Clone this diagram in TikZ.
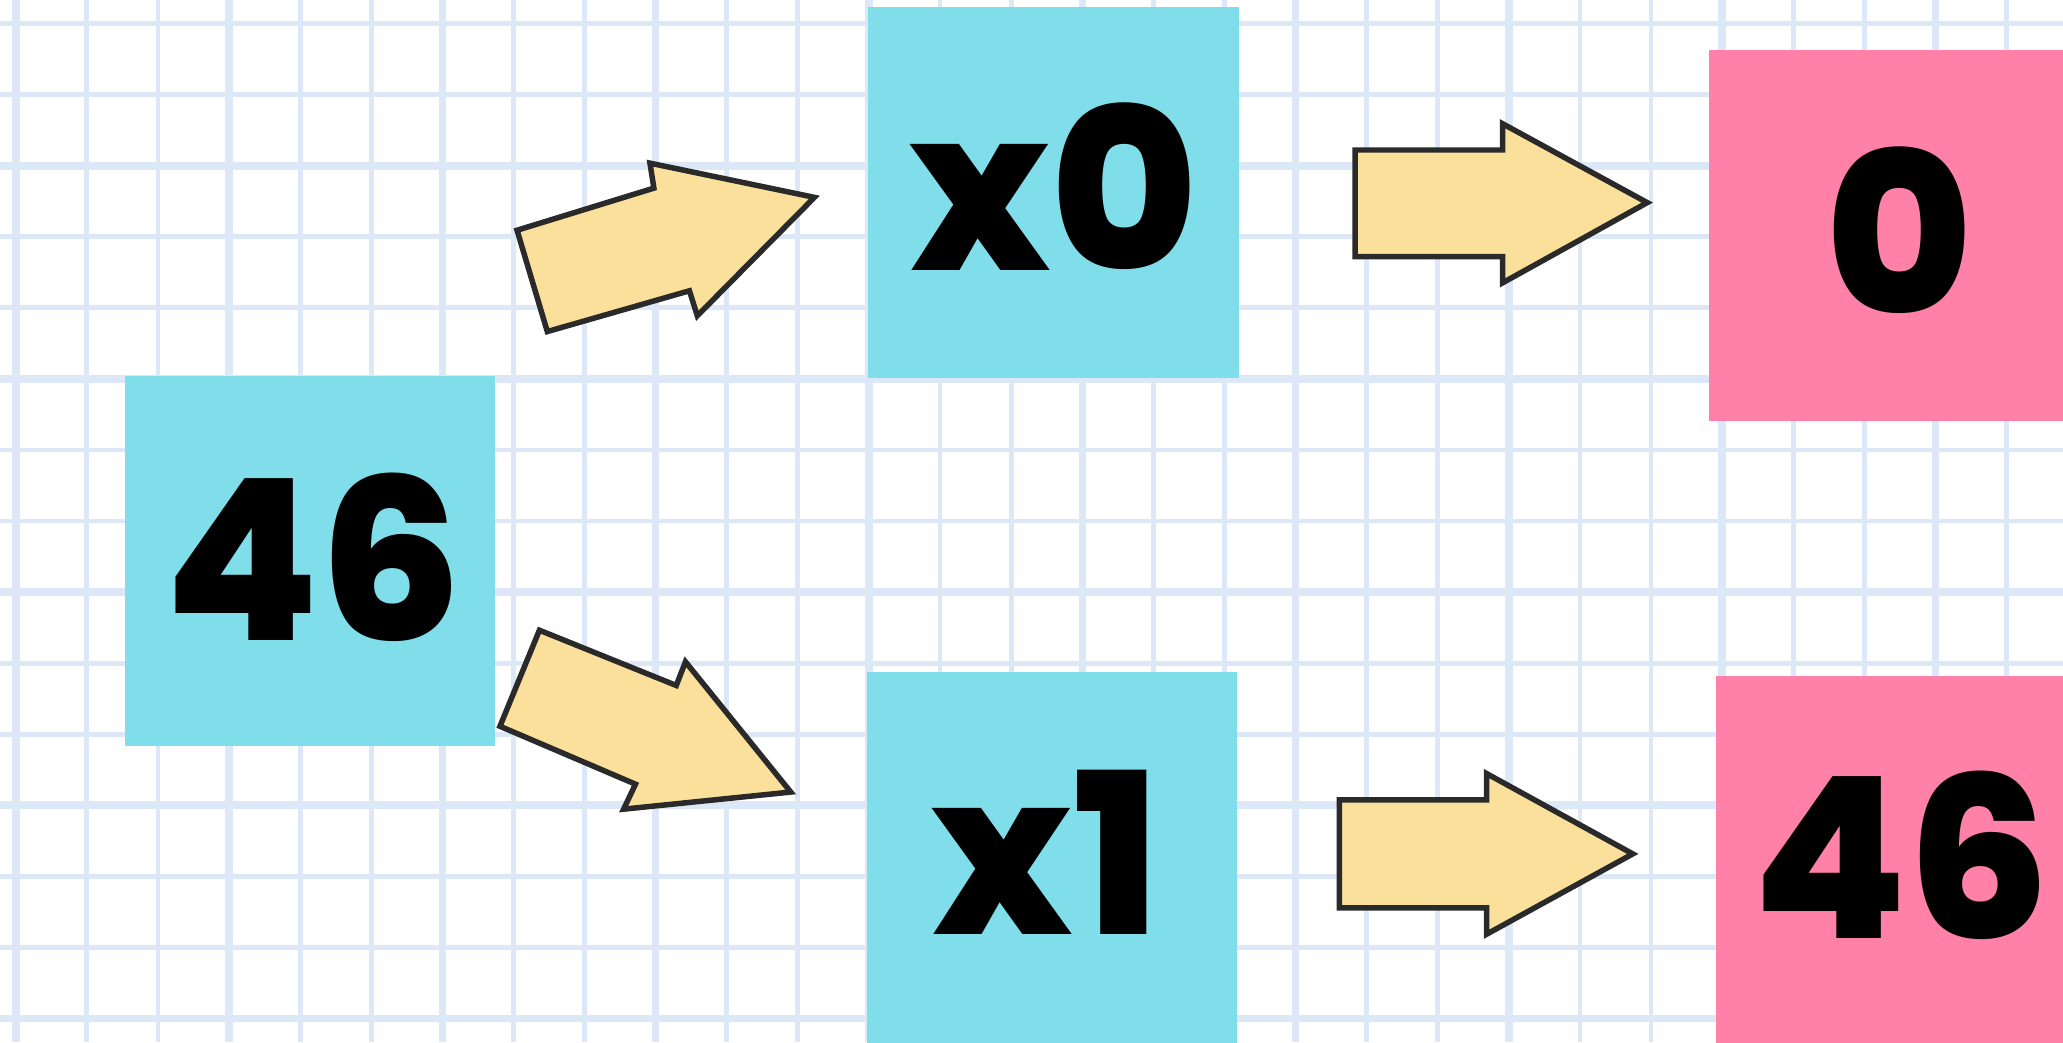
\documentclass[tikz,border=0pt]{standalone}
\usepackage{fontspec}
\setmainfont{Poppins}[BoldFont={Poppins ExtraBold}]
\definecolor{gridc}{HTML}{DCE8F8}
\definecolor{cyanc}{HTML}{80DEEA}
\definecolor{pinkc}{HTML}{FF80A8}
\definecolor{yelc}{HTML}{FAE09A}
\definecolor{edgec}{HTML}{2A2A2A}
\begin{document}
\begin{tikzpicture}[x=0.1316mm,y=-0.1316mm,
  thin grid/.style={gridc,line width=0.48mm},
  thick grid/.style={gridc,line width=0.75mm},
  cyanbox/.style={fill=cyanc},
  pinkbox/.style={fill=pinkc},
  blockarrow/.style={fill=yelc,draw=edgec,line width=0.55mm,line join=miter},
  label/.style={inner sep=0pt,font=\fontsize{64}{64}\selectfont\bfseries}]
\useasboundingbox (0,0) rectangle (1568,792);
\clip (0,0) rectangle (1568,792);
\fill[white] (0,0) rectangle (1568,792);
% grid
\foreach \k in {0,...,28}{
  \pgfmathtruncatemacro{\m}{mod(\k,3)}
  \ifnum\m=0
    \draw[thick grid] ({12+54.04*\k},0) -- ({12+54.04*\k},792);
  \else
    \draw[thin grid] ({12+54.04*\k},0) -- ({12+54.04*\k},792);
  \fi
}
\foreach \k in {0,...,14}{
  \pgfmathtruncatemacro{\m}{mod(\k,3)}
  \ifnum\m=2
    \draw[thick grid] (0,{18+54*\k}) -- (1568,{18+54*\k});
  \else
    \draw[thin grid] (0,{18+54*\k}) -- (1568,{18+54*\k});
  \fi
}
% boxes
\fill[cyanbox] (95,286) rectangle (376,567);
\fill[cyanbox] (660,5) rectangle (942,287);
\fill[cyanbox] (659,511) rectangle (940,800);
\fill[pinkbox] (1299,38) rectangle (1580,320);
\fill[pinkbox] (1304,514) rectangle (1580,800);
% labels
\node[label] (n46) at (238,423.5) {46};
\node[label] (nx0) at (801,142) {x0};
\node[label] (nx1) at (795,648) {x1};
\node[label] (r0) at (1444,175) {0};
\node[label] (r46) at (1445,650) {46};
% block arrows
\draw[blockarrow] (393,175) -- (497,143) -- (494,124) -- (619,150) -- (530,240) -- (524,221) -- (416,252) -- cycle;
\draw[blockarrow] (410,479) -- (514,521) -- (521,503) -- (601,602) -- (474,615) -- (483,596) -- (380,552) -- cycle;
\draw[blockarrow] (1030,114) -- (1142,114) -- (1142,94) -- (1252,154) -- (1142,215) -- (1142,195) -- (1030,195) -- cycle;
\draw[blockarrow] (1018,608) -- (1130,608) -- (1130,588) -- (1241,649) -- (1130,710) -- (1130,690) -- (1018,690) -- cycle;
\end{tikzpicture}
\end{document}
